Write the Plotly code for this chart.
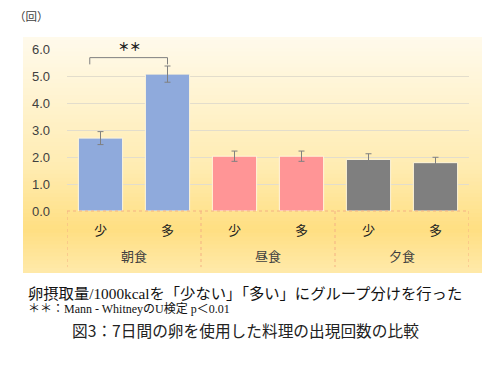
import plotly.graph_objects as go

meals = ["朝食", "昼食", "夕食"]
groups = ["少", "多"]
values = [2.70, 5.07, 2.03, 2.03, 1.91, 1.79]
errors = [0.24, 0.30, 0.19, 0.19, 0.21, 0.20]
colors = ["#8FAADC", "#8FAADC", "#FF9596", "#FF9596", "#7F7F7F", "#7F7F7F"]
yticks = [0, 1, 2, 3, 4, 5, 6]
ytick_labels = ["0.0", "1.0", "2.0", "3.0", "4.0", "5.0", "6.0"]

xpos = list(range(len(values)))
xlabels = [g for m in meals for g in groups]

JP = "Noto Sans CJK JP, Noto Sans, sans-serif"
SERIF_JP = "Liberation Serif, Noto Sans CJK JP, serif"

fig = go.Figure()
fig.add_trace(go.Bar(
    x=xpos, y=values, width=0.66,
    marker=dict(color=colors, line=dict(color="#FFF6DA", width=1)),
    error_y=dict(type="data", array=errors, color="#808080", thickness=1, width=3),
    hoverinfo="skip",
))

shapes = []
# gradient background (chart area)
x0p, x1p = (23 - 67) / 402, (482 - 67) / 402
ytop, ybot = (211 - 37) / 162, (211 - 273) / 162
stops = [(0.0, (255, 250, 236)), (0.55, (255, 236, 178)), (0.82, (255, 223, 130)), (1.0, (255, 233, 170))]
n = 60
def col(t):
    for i in range(len(stops) - 1):
        a, ca = stops[i]
        b, cb = stops[i + 1]
        if a <= t <= b:
            f = (t - a) / (b - a)
            return "rgb(%d,%d,%d)" % tuple(round(ca[k] + (cb[k] - ca[k]) * f) for k in range(3))
    return "rgb(%d,%d,%d)" % stops[-1][1]
for i in range(n):
    ya = ytop + (ybot - ytop) * i / n
    yb = ytop + (ybot - ytop) * (i + 1) / n
    top = ya if i == 0 else ya + 0.006
    shapes.append(dict(type="rect", xref="paper", yref="paper", x0=x0p, x1=x1p,
                       y0=yb, y1=top, fillcolor=col((i + 0.5) / n),
                       line=dict(width=0), layer="below"))

# dashed category box
dash_col = "#F4B183"
shapes.append(dict(type="line", xref="x", yref="paper", x0=-0.5, x1=5.5, y0=0, y1=0,
                   line=dict(color=dash_col, width=1, dash="dot")))
for xv in [-0.5, 1.5, 3.5, 5.5]:
    shapes.append(dict(type="line", xref="x", yref="paper", x0=xv, x1=xv, y0=0, y1=-0.346,
                       line=dict(color=dash_col, width=1, dash="dot")))

# significance bracket
br_top = max(v + e for v, e in zip(values[:2], errors[:2])) + 0.31
br_leg = br_top - 0.25
shapes.append(dict(type="path", xref="x", yref="y",
                   path=f"M -0.16 {br_leg} L -0.16 {br_top} L 1 {br_top} L 1 {br_leg}",
                   line=dict(color="#7F7F7F", width=1)))

annotations = [
    dict(text="<b>＊＊</b>", x=0.43, y=br_top + 0.06, xref="x", yref="y", showarrow=False,
         font=dict(size=11.5, color="#222222", family=JP), yanchor="bottom"),
    dict(text="（回）", x=(12 - 67) / 402, y=(211 - 16) / 162, xref="paper", yref="paper",
         showarrow=False, font=dict(size=11.5, color="#404040", family=JP),
         xanchor="left", yanchor="middle"),
]
for i, m in enumerate(meals):
    annotations.append(dict(text=m, x=2 * i + 0.5, y=-(256 - 211) / 162, xref="x", yref="paper",
                            showarrow=False, font=dict(size=13, color="#404040", family=JP),
                            yanchor="middle"))

annotations.append(dict(text="卵摂取量/1000kcalを「少ない」「多い」にグループ分けを行った",
                        x=(26 - 67) / 402, y=(211 - 293) / 162, xref="paper", yref="paper",
                        showarrow=False, xanchor="left", yanchor="middle",
                        font=dict(size=15.3, color="#111111", family=SERIF_JP)))
annotations.append(dict(text="＊＊：Mann - WhitneyのU検定 p＜0.01",
                        x=(26 - 67) / 402, y=(211 - 309) / 162, xref="paper", yref="paper",
                        showarrow=False, xanchor="left", yanchor="middle",
                        font=dict(size=12, color="#111111", family=SERIF_JP)))
annotations.append(dict(text="図3：7日間の卵を使用した料理の出現回数の比較",
                        x=(245 - 67) / 402, y=(211 - 330) / 162, xref="paper", yref="paper",
                        showarrow=False, xanchor="center", yanchor="middle",
                        font=dict(size=15.7, color="#222222", family=JP)))

fig.update_layout(
    width=486, height=357,
    margin=dict(l=59, r=25, t=41, b=154),
    paper_bgcolor="white", plot_bgcolor="rgba(0,0,0,0)",
    showlegend=False,
    shapes=shapes, annotations=annotations,
    xaxis=dict(tickmode="array", tickvals=xpos, ticktext=xlabels, range=[-0.5, 5.5],
               showgrid=False, zeroline=False, showline=False, ticks="",
               tickfont=dict(size=13, color="#222222", family=JP), ticklabelstandoff=10),
    yaxis=dict(range=[0, 6], tickmode="array", tickvals=yticks, ticktext=ytick_labels,
               showgrid=True, gridcolor="#E3DDCC", gridwidth=1, zeroline=False,
               showline=False, ticks="", ticklabelstandoff=16,
               tickfont=dict(size=13, color="#404040", family="Liberation Sans, Arial, sans-serif")),
)

fig.write_html("out.html")
